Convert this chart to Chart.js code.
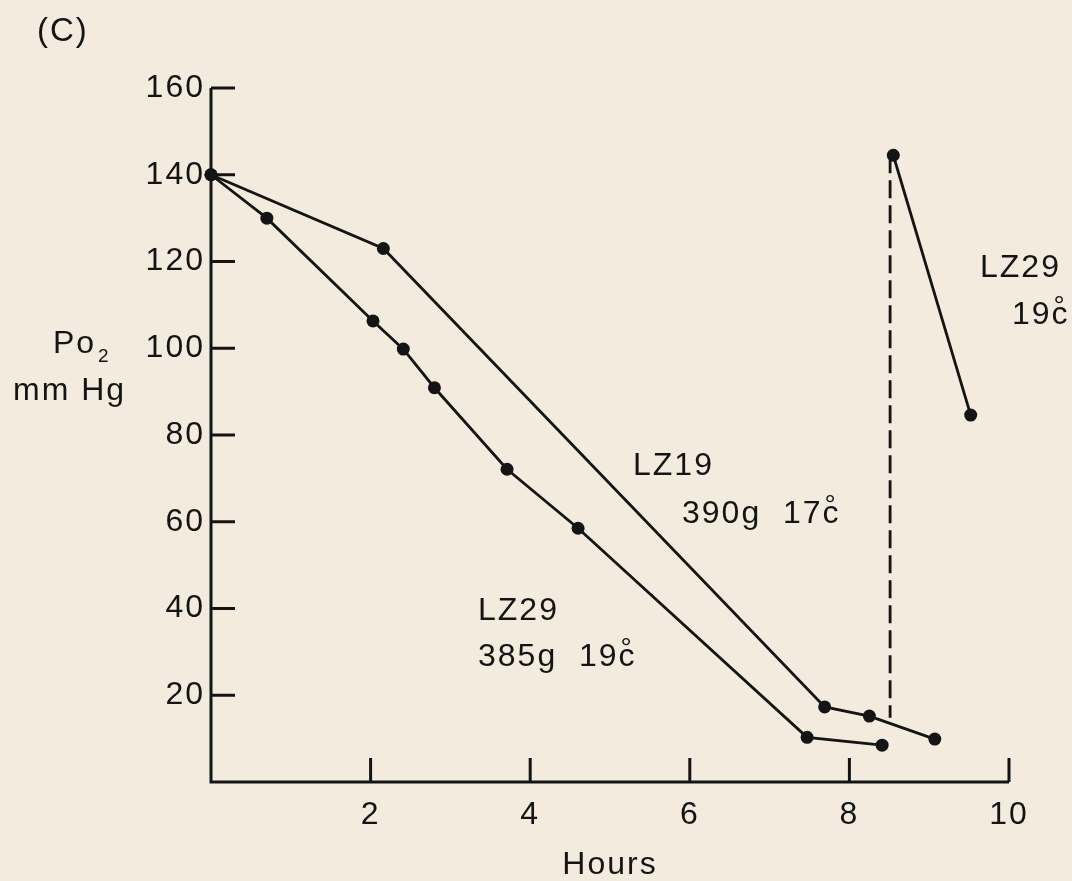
<!DOCTYPE html>
<html>
<head>
<meta charset="utf-8">
<script src="https://cdn.jsdelivr.net/npm/chart.js@4.4.1/dist/chart.umd.min.js"></script>
<style>
  html, body { margin: 0; padding: 0; background: #f3ebde; }
  canvas { display: block; }
</style>
</head>
<body>
<canvas id="po2chart" width="1072" height="881"></canvas>
<script>
// Po2 decline over time
const lz19Hours = [0, 2.16, 7.69, 8.25, 9.07];
const lz19Po2 = [140, 123, 17.3, 15.2, 9.9];

const lz29Hours = [0, 0.70, 2.03, 2.41, 2.80, 3.71, 4.60, 7.47, 8.41];
const lz29Po2 = [140, 130, 106.3, 99.8, 90.9, 72.1, 58.5, 10.3, 8.5];

// LZ29 after re-oxygenation
const lz29bHours = [8.55, 9.52];
const lz29bPo2 = [144.5, 84.6];

// dashed marker
const markerHours = [8.51, 8.51];
const markerPo2 = [144.5, 14.8];

const xTickValues = [2, 4, 6, 8, 10];
const yTickValues = [20, 40, 60, 80, 100, 120, 140, 160];

const ink = '#141414';
const fontFamily = '"Liberation Sans", Arial, Helvetica, sans-serif';

function toPoints(xs, ys) {
    return xs.map((h, i) => ({x: h, y: ys[i]}));
}

function lineSet(xs, ys, dots) {
    return {
        data: toPoints(xs, ys),
        borderColor: ink,
        backgroundColor: ink,
        borderWidth: 2.8,
        pointRadius: dots ? 6.5 : 0,
        pointBorderWidth: 0,
        pointBackgroundColor: ink,
        tension: 0,
        clip: false
    };
}

let markerSet = lineSet(markerHours, markerPo2, false);
markerSet.borderDash = [18, 7];

// text with the degree ring set over the c, as in the figure
function degreeText(ctx, before, x, baseline) {
    ctx.fillText(before, x, baseline);
    const w = ctx.measureText(before).width;
    ctx.fillText('c', x + w, baseline);
    const keep = ctx.font;
    ctx.font = '28px ' + fontFamily;
    ctx.fillText('°', x + w + 2, baseline - 9);
    ctx.font = keep;
}

// draws the axis lines, inward ticks and the hand-lettered labels
const figurePlugin = {
    id: 'figure',
    beforeDraw(chart) {
        chart.ctx.letterSpacing = '2px';
    },
    beforeDatasetsDraw(chart) {
        const ctx = chart.ctx;
        const x = chart.scales.x, y = chart.scales.y;
        const x0 = x.getPixelForValue(0), x1 = x.getPixelForValue(10);
        const y0 = y.getPixelForValue(0), y1 = y.getPixelForValue(160);
        ctx.save();
        ctx.strokeStyle = ink;
        ctx.lineWidth = 3;
        ctx.beginPath();
        ctx.moveTo(x0, y1);
        ctx.lineTo(x0, y0);
        ctx.lineTo(x1, y0);
        yTickValues.forEach(v => {
            const py = y.getPixelForValue(v);
            ctx.moveTo(x0, py);
            ctx.lineTo(x0 + 24, py);
        });
        xTickValues.forEach(v => {
            const px = x.getPixelForValue(v);
            ctx.moveTo(px, y0);
            ctx.lineTo(px, y0 - 24);
        });
        ctx.stroke();
        ctx.restore();
    },
    afterDraw(chart) {
        const ctx = chart.ctx;
        ctx.save();
        ctx.fillStyle = ink;
        ctx.textAlign = 'left';
        ctx.textBaseline = 'alphabetic';
        ctx.letterSpacing = '2px';
        ctx.font = '33px ' + fontFamily;
        ctx.fillText('(C)', 37, 41);
        ctx.font = '32px ' + fontFamily;
        ctx.fillText('Po', 53, 353);
        ctx.fillText('mm Hg', 13, 400);
        ctx.fillText('LZ19', 633, 475);
        degreeText(ctx, '390g  17', 682, 523);
        ctx.fillText('LZ29', 478, 620);
        degreeText(ctx, '385g  19', 478, 666);
        ctx.fillText('LZ29', 980, 277);
        degreeText(ctx, '19', 1012, 324);
        ctx.font = '19px ' + fontFamily;
        ctx.fillText('2', 98, 362);
        ctx.restore();
    }
};

Chart.defaults.font.family = fontFamily;
Chart.defaults.font.size = 32;
Chart.defaults.color = ink;

const ctx = document.getElementById('po2chart').getContext('2d');
const po2chart = new Chart(ctx, {
    type: 'line',
    data: {
        datasets: [
            markerSet,
            lineSet(lz19Hours, lz19Po2, true),
            lineSet(lz29Hours, lz29Po2, true),
            lineSet(lz29bHours, lz29bPo2, true)
        ]
    },
    options: {
        responsive: false,
        animation: false,
        events: [],
        layout: { padding: { left: 0, top: 88, right: 63, bottom: 0 } },
        plugins: {
            legend: { display: false },
            tooltip: { enabled: false }
        },
        scales: {
            x: {
                type: 'linear',
                min: 0,
                max: 10,
                grid: { display: false, drawTicks: false },
                border: { display: false },
                ticks: {
                    stepSize: 2,
                    padding: 14,
                    maxRotation: 0,
                    callback: v => xTickValues.includes(v) ? String(v) : ''
                },
                title: {
                    display: true,
                    text: 'Hours',
                    font: { size: 32, lineHeight: 1 },
                    padding: { top: 0, bottom: 0 }
                },
                afterFit(scale) { scale.height = 99; }
            },
            y: {
                type: 'linear',
                min: 0,
                max: 160,
                grid: { display: false, drawTicks: false },
                border: { display: false },
                ticks: {
                    stepSize: 20,
                    padding: 6,
                    callback: v => yTickValues.includes(v) ? String(v) : ''
                },
                afterFit(scale) { scale.width = 211; }
            }
        }
    },
    plugins: [figurePlugin]
});
</script>
</body>
</html>
